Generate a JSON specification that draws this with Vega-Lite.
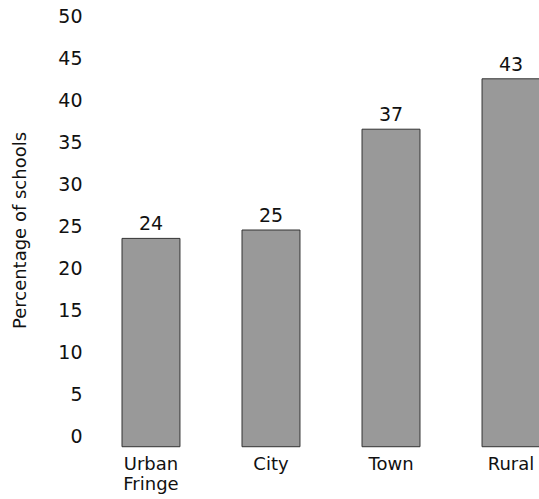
{
  "$schema": "https://vega.github.io/schema/vega-lite/v6.json",
  "autosize": {"type": "none"},
  "padding": {"left": 92, "top": 20, "right": 0, "bottom": 59},
  "width": 448,
  "height": 420,
  "background": "white",
  "config": {
    "view": {"stroke": null},
    "font": "DejaVu Sans",
    "axis": {"labelFont": "DejaVu Sans", "titleFont": "DejaVu Sans", "labelColor": "#111", "titleColor": "#111", "grid": false, "domain": false, "ticks": false}
  },
  "data": {
    "values": [
      {"locale": "Urban Fringe", "pct": 24},
      {"locale": "City", "pct": 25},
      {"locale": "Town", "pct": 37},
      {"locale": "Rural", "pct": 43}
    ]
  },
  "encoding": {
    "x": {
      "field": "locale",
      "type": "nominal",
      "sort": null,
      "scale": {"paddingInner": 0.517, "paddingOuter": 0.125, "align": 1},
      "axis": {
        "title": null,
        "labelAngle": 0,
        "labelFontSize": 18,
        "labelLineHeight": 20,
        "labelPadding": 15,
        "labelExpr": "datum.label == 'Urban Fringe' ? ['Urban', 'Fringe'] : datum.label"
      }
    }
  },
  "layer": [
    {
      "mark": {"type": "bar", "fill": "#999999", "stroke": "#333333", "strokeWidth": 1},
      "encoding": {
        "y": {
          "field": "pct",
          "type": "quantitative",
          "scale": {"domain": [0, 50], "nice": false, "zero": false},
          "axis": {
            "title": "Percentage of schools",
            "titleFontSize": 18,
            "titleFontWeight": "normal",
            "titlePadding": 28,
            "values": [0, 5, 10, 15, 20, 25, 30, 35, 40, 45, 50],
            "labelFontSize": 19,
            "labelPadding": 10,
            "labelOffset": -4
          }
        },
        "y2": {"datum": -0.8}
      }
    },
    {
      "mark": {"type": "text", "fontSize": 19, "dy": -8, "baseline": "alphabetic", "color": "#111"},
      "encoding": {
        "y": {"field": "pct", "type": "quantitative"},
        "text": {"field": "pct", "type": "quantitative"}
      }
    }
  ]
}
